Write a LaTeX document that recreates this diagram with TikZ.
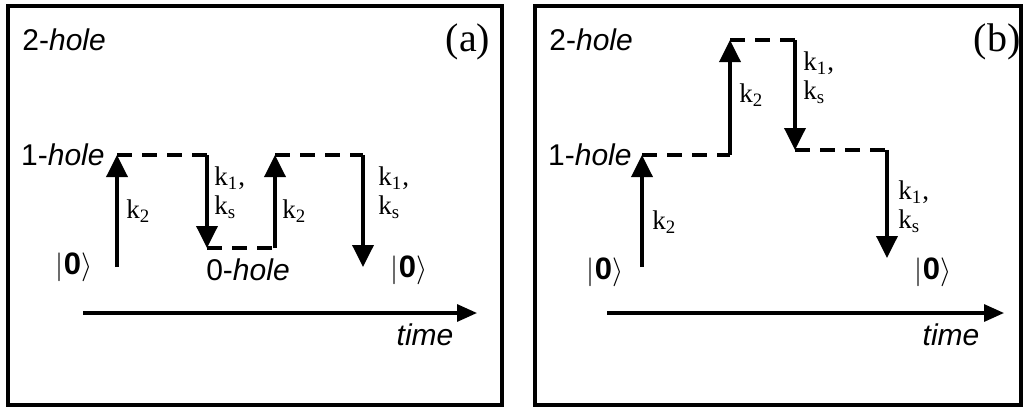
\documentclass[tikz,border=0pt]{standalone}
\usepackage{fontspec}
\setmainfont{Liberation Serif}
\setsansfont{Liberation Sans}
\usetikzlibrary{arrows.meta}

\begin{document}
\begin{tikzpicture}[
  x=0.5pt, y=-0.5pt,
  panel/.style={draw, line width=1.8pt},
  arr/.style={-{Triangle[length=11pt, width=10.5pt]}, line width=1.8pt},
  lvl/.style={line width=1.8pt, dash pattern=on 7.5pt off 5pt},
  axis/.style={-{Triangle[length=10pt, width=8.5pt]}, line width=1.6pt},
  lab/.style={inner sep=0pt, font=\fontsize{15}{18}\selectfont\sffamily},
  rate/.style={inner sep=0pt, align=left, font=\fontsize{13.5}{14.5}\selectfont},
  tag/.style={inner sep=0pt, font=\fontsize{20}{24}\selectfont},
  ket/.style={inner sep=0pt, font=\fontsize{15.5}{18}\selectfont}
]
\useasboundingbox (0,0) rectangle (1024,408);
\draw[panel] (8,6) rectangle (502,405);
\draw[panel] (535,6) rectangle (1021,405);

% (a)
\node[lab, anchor=base west] (ha2) at (22,50) {2-\textit{hole}};
\node[tag, anchor=base] (taga) at (468,51) {(a)};
\node[lab, anchor=base east] (ha1) at (105,165) {1-\textit{hole}};
\node[lab, anchor=base] (ha0) at (248,280) {0-\textit{hole}};
\node[ket] (keta) at (74,267) {$\bigl|\textsf{\bfseries 0}\bigr\rangle$};
\node[ket] (ketb) at (409,270) {$\bigl|\textsf{\bfseries 0}\bigr\rangle$};
\coordinate (a0) at (117,267);
\coordinate (a1) at (117,155);
\coordinate (a2) at (207,155);
\coordinate (a3) at (207,248);
\coordinate (a4) at (275,248);
\coordinate (a5) at (275,155);
\coordinate (a6) at (363,155);
\coordinate (a7) at (363,267);
\draw[arr] (a0) -- (a1);
\draw[lvl] (a1) -- (a2);
\draw[arr] (a2) -- (a3);
\draw[lvl] (a3) -- (a4);
\draw[arr] (a4) -- (a5);
\draw[lvl] (a5) -- (a6);
\draw[arr] (a6) -- (a7);
\node[rate, anchor=base west] (ra1) at (126,218) {k\textsubscript{2}};
\node[rate, anchor=west] (ra2) at (214,193) {k\textsubscript{1},\\k\textsubscript{s}};
\node[rate, anchor=base west] (ra3) at (282,218) {k\textsubscript{2}};
\node[rate, anchor=west] (ra4) at (378,193) {k\textsubscript{1},\\k\textsubscript{s}};
\coordinate (ta0) at (83,313);
\coordinate (ta1) at (477,313);
\draw[axis] (ta0) -- (ta1);
\node[lab, anchor=base] (tima) at (425,345) {\textit{time}};

% (b)
\node[lab, anchor=base west] (hb2) at (549,50) {2-\textit{hole}};
\node[tag, anchor=base] (tagb) at (997,51) {(b)};
\node[lab, anchor=base east] (hb1) at (632,165) {1-\textit{hole}};
\node[ket] (ketc) at (605,272) {$\bigl|\textsf{\bfseries 0}\bigr\rangle$};
\node[ket] (ketd) at (933,272) {$\bigl|\textsf{\bfseries 0}\bigr\rangle$};
\coordinate (b0) at (642,267);
\coordinate (b1) at (642,155);
\coordinate (b2) at (730,155);
\coordinate (b3) at (730,40);
\coordinate (b4) at (795,40);
\coordinate (b5) at (795,150);
\coordinate (b6) at (887,150);
\coordinate (b7) at (887,258);
\draw[arr] (b0) -- (b1);
\draw[lvl] (b1) -- (b2);
\draw[arr] (b2) -- (b3);
\draw[lvl] (b3) -- (b4);
\draw[arr] (b4) -- (b5);
\draw[lvl] (b5) -- (b6);
\draw[arr] (b6) -- (b7);
\node[rate, anchor=base west] (rb1) at (652,229) {k\textsubscript{2}};
\node[rate, anchor=base west] (rb2) at (739,102) {k\textsubscript{2}};
\node[rate, anchor=west] (rb3) at (803,78) {k\textsubscript{1},\\k\textsubscript{s}};
\node[rate, anchor=west] (rb4) at (898,207) {k\textsubscript{1},\\k\textsubscript{s}};
\coordinate (tb0) at (607,313);
\coordinate (tb1) at (1004,313);
\draw[axis] (tb0) -- (tb1);
\node[lab, anchor=base] (timb) at (951,345) {\textit{time}};
\end{tikzpicture}
\end{document}
